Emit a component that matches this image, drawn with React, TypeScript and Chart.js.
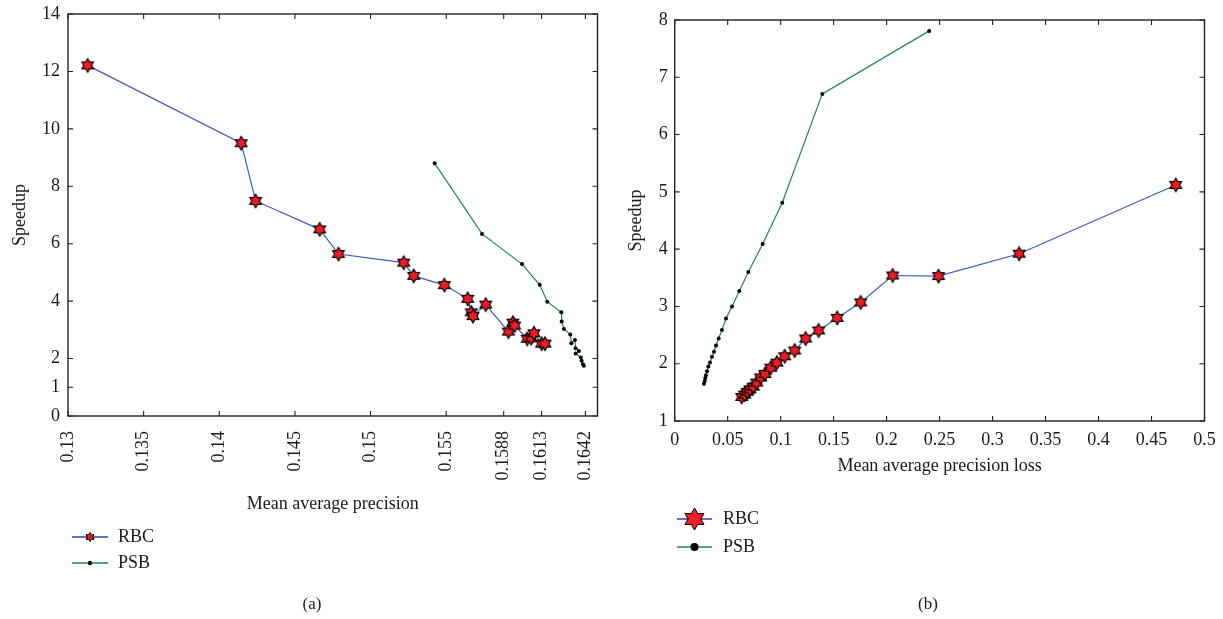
import { useEffect, useRef } from "react";
import { Chart, registerables } from "chart.js";

Chart.register(...registerables);

const FONT = '"Liberation Serif", "Times New Roman", serif';
const BLUE = "#3a5cbc";
const GREEN = "#1f8a45";
const STAR_FILL = "#ed1c24";
const TEXT = "#1a1a1a";

// ---- Panel (a): Mean average precision vs Speedup ----
const aRbcX = [0.1313, 0.14145, 0.1424, 0.14664, 0.14788, 0.15219, 0.15285, 0.15488, 0.15642, 0.15666, 0.15677, 0.15761, 0.15911, 0.15941, 0.15952, 0.16036, 0.16062, 0.1608, 0.16131, 0.16153];
const aRbcY = [12.21, 9.5, 7.49, 6.5, 5.64, 5.34, 4.88, 4.56, 4.08, 3.61, 3.48, 3.88, 2.94, 3.25, 3.15, 2.69, 2.71, 2.88, 2.52, 2.52];
const aPsbX = [0.15424, 0.15737, 0.16001, 0.16118, 0.16168, 0.16261, 0.16263, 0.16278, 0.1632, 0.16327, 0.16351, 0.16355, 0.16377, 0.16355, 0.1639, 0.16395, 0.16404, 0.1641];
const aPsbY = [8.8, 6.34, 5.29, 4.57, 3.98, 3.61, 3.29, 3.03, 2.84, 2.53, 2.65, 2.36, 2.26, 2.18, 2.04, 1.92, 1.8, 1.75];
const aXTicks = [0.13, 0.135, 0.14, 0.145, 0.15, 0.155, 0.1588, 0.1613, 0.1642];
const aXTickLabels = ["0.13", "0.135", "0.14", "0.145", "0.15", "0.155", "0.1588", "0.1613", "0.1642"];
const aYTicks = [0, 1, 2, 4, 6, 8, 10, 12, 14];
const aYTickLabels = ["0", "1", "2", "4", "6", "8", "10", "12", "14"];

// ---- Panel (b): Mean average precision loss vs Speedup ----
const bRbcX = [0.0632, 0.066, 0.0685, 0.071, 0.0742, 0.0774, 0.0811, 0.0852, 0.0906, 0.0965, 0.1038, 0.1132, 0.1236, 0.1358, 0.1534, 0.1755, 0.2057, 0.249, 0.3251, 0.4729];
const bRbcY = [1.42, 1.46, 1.51, 1.55, 1.6, 1.67, 1.76, 1.82, 1.93, 2.02, 2.13, 2.23, 2.44, 2.58, 2.8, 3.07, 3.54, 3.53, 3.92, 5.12];
const bPsbX = [0.0276, 0.0283, 0.0289, 0.0295, 0.0305, 0.0317, 0.0333, 0.0352, 0.0371, 0.039, 0.0415, 0.0446, 0.0484, 0.0541, 0.061, 0.0695, 0.083, 0.1015, 0.1393, 0.2402];
const bPsbY = [1.65, 1.7, 1.75, 1.8, 1.87, 1.95, 2.02, 2.12, 2.21, 2.32, 2.44, 2.59, 2.79, 3.0, 3.27, 3.6, 4.09, 4.81, 6.71, 7.81];
const bXTicks = [0, 0.05, 0.1, 0.15, 0.2, 0.25, 0.3, 0.35, 0.4, 0.45, 0.5];
const bXTickLabels = ["0", "0.05", "0.1", "0.15", "0.2", "0.25", "0.3", "0.35", "0.4", "0.45", "0.5"];
const bYTicks = [1, 2, 3, 4, 5, 6, 7, 8];
const bYTickLabels = ["1", "2", "3", "4", "5", "6", "7", "8"];

const seriesNames = ["RBC", "PSB"];

function hexagram(R: number, lw: number) {
  const size = Math.ceil(2 * R + 2 * lw + 2);
  const c = document.createElement("canvas");
  c.width = size;
  c.height = size;
  const ctx = c.getContext("2d")!;
  drawHexagram(ctx, size / 2, size / 2, R, lw);
  return c;
}

function drawHexagram(ctx: CanvasRenderingContext2D, cx: number, cy: number, R: number, lw: number) {
  const r = R / Math.sqrt(3);
  ctx.save();
  ctx.beginPath();
  for (let i = 0; i < 12; i++) {
    const ang = -Math.PI / 2 + (i * Math.PI) / 6;
    const rad = i % 2 === 0 ? R : r;
    const x = cx + rad * Math.cos(ang);
    const y = cy + rad * Math.sin(ang);
    if (i === 0) ctx.moveTo(x, y);
    else ctx.lineTo(x, y);
  }
  ctx.closePath();
  ctx.fillStyle = STAR_FILL;
  ctx.fill();
  ctx.lineWidth = lw;
  ctx.strokeStyle = "#000";
  ctx.lineJoin = "miter";
  ctx.stroke();
  ctx.restore();
}

function zip(xs: number[], ys: number[]) {
  return xs.map((x, i) => ({ x, y: ys[i] }));
}

type Spec = {
  id: string;
  rbc: { x: number; y: number }[];
  psb: { x: number; y: number }[];
  xMin: number; xMax: number; yMin: number; yMax: number;
  xTicks: number[]; xLabels: string[];
  yTicks: number[]; yLabels: string[];
  xRot: number;
  xTitle: string;
  pad: { left: number; right: number; top: number; bottom: number };
  yAxisW: number; xAxisH: number;
  yTitlePad: number; xTickPad: number; yTickPad: number;
  starR: number; dotR: number;
  legend: { x1: number; x2: number; y1: number; y2: number; tx: number; starR: number; dotR: number };
  caption: { text: string; x: number; y: number };
};

function buildConfig(s: Spec): any {
  const star = hexagram(s.starR, 1.1);
  const tickFont = { family: FONT, size: 18 };
  const plugin = {
    id: "deco" + s.id,
    beforeDatasetsDraw(chart: any) {
      const { ctx, chartArea: a, scales } = chart;
      ctx.save();
      ctx.strokeStyle = "#222";
      ctx.lineWidth = 1.4;
      ctx.strokeRect(a.left, a.top, a.right - a.left, a.bottom - a.top);
      ctx.lineWidth = 1.1;
      ctx.beginPath();
      const tl = 5;
      s.xTicks.forEach((v) => {
        const px = scales.x.getPixelForValue(v);
        ctx.moveTo(px, a.bottom); ctx.lineTo(px, a.bottom - tl);
        ctx.moveTo(px, a.top); ctx.lineTo(px, a.top + tl);
      });
      s.yTicks.forEach((v) => {
        const py = scales.y.getPixelForValue(v);
        ctx.moveTo(a.left, py); ctx.lineTo(a.left + tl, py);
        ctx.moveTo(a.right, py); ctx.lineTo(a.right - tl, py);
      });
      ctx.stroke();
      ctx.restore();
    },
    afterDraw(chart: any) {
      const { ctx } = chart;
      const L = s.legend;
      ctx.save();
      ctx.lineWidth = 1.8;
      ctx.strokeStyle = "rgba(58,92,188,0.85)";
      ctx.beginPath(); ctx.moveTo(L.x1, L.y1); ctx.lineTo(L.x2, L.y1); ctx.stroke();
      drawHexagram(ctx, (L.x1 + L.x2) / 2, L.y1, L.starR, 1);
      ctx.strokeStyle = "rgba(31,138,69,0.75)";
      ctx.lineWidth = 2.2;
      ctx.beginPath(); ctx.moveTo(L.x1, L.y2); ctx.lineTo(L.x2, L.y2); ctx.stroke();
      ctx.fillStyle = "#000";
      ctx.beginPath(); ctx.arc((L.x1 + L.x2) / 2, L.y2, L.dotR, 0, Math.PI * 2); ctx.fill();
      ctx.fillStyle = TEXT;
      ctx.font = `18px ${FONT}`;
      ctx.textAlign = "left";
      ctx.textBaseline = "middle";
      ctx.fillText(seriesNames[0], L.tx, L.y1);
      ctx.fillText(seriesNames[1], L.tx, L.y2);
      ctx.font = `17px ${FONT}`;
      ctx.textAlign = "center";
      ctx.fillText(s.caption.text, s.caption.x, s.caption.y);
      ctx.restore();
    },
  };
  const zeroPad = (sc: any) => {
    sc.paddingLeft = 0;
    sc.paddingRight = 0;
    sc.paddingTop = 0;
    sc.paddingBottom = 0;
  };
  return {
    type: "scatter",
    data: {
      datasets: [
        {
          label: seriesNames[0],
          data: s.rbc,
          showLine: true,
          borderColor: BLUE,
          borderWidth: 1.2,
          pointStyle: star,
          pointRadius: s.starR,
          tension: 0,
        },
        {
          label: seriesNames[1],
          data: s.psb,
          showLine: true,
          borderColor: GREEN,
          borderWidth: 1.2,
          pointStyle: "circle",
          pointRadius: s.dotR,
          pointBackgroundColor: "#000",
          pointBorderColor: "#000",
          pointBorderWidth: 0,
          tension: 0,
        },
      ],
    },
    options: {
      responsive: false,
      animation: false,
      events: [],
      layout: { padding: s.pad },
      plugins: { legend: { display: false }, tooltip: { enabled: false }, title: { display: false } },
      scales: {
        x: {
          type: "linear",
          min: s.xMin,
          max: s.xMax,
          afterBuildTicks: (sc: any) => { sc.ticks = s.xTicks.map((v) => ({ value: v })); },
          afterFit: (sc: any) => { sc.height = s.xAxisH; zeroPad(sc); },
          ticks: {
            autoSkip: false,
            minRotation: s.xRot,
            maxRotation: s.xRot,
            padding: s.xTickPad,
            font: tickFont,
            color: TEXT,
            callback: (_v: any, i: number) => s.xLabels[i],
          },
          grid: { display: false, drawTicks: false },
          border: { display: false },
          title: { display: true, text: s.xTitle, font: tickFont, color: TEXT, padding: { top: 0, bottom: 0 } },
        },
        y: {
          type: "linear",
          min: s.yMin,
          max: s.yMax,
          afterBuildTicks: (sc: any) => { sc.ticks = s.yTicks.map((v) => ({ value: v })); },
          afterFit: (sc: any) => { sc.width = s.yAxisW; zeroPad(sc); },
          ticks: {
            autoSkip: false,
            padding: s.yTickPad,
            font: tickFont,
            color: TEXT,
            callback: (_v: any, i: number) => s.yLabels[i],
          },
          grid: { display: false, drawTicks: false },
          border: { display: false },
          title: { display: true, text: "Speedup", font: tickFont, color: TEXT, padding: { top: s.yTitlePad, bottom: 0 } },
        },
      },
    },
    plugins: [plugin],
  };
}

const specA: Spec = {
  id: "a",
  rbc: zip(aRbcX, aRbcY),
  psb: zip(aPsbX, aPsbY),
  xMin: 0.13, xMax: 0.165, yMin: 0, yMax: 14,
  xTicks: aXTicks, xLabels: aXTickLabels,
  yTicks: aYTicks, yLabels: aYTickLabels,
  xRot: 90,
  xTitle: "Mean average precision",
  pad: { left: 0, right: 13.5, top: 14, bottom: 104 },
  yAxisW: 68, xAxisH: 99,
  yTitlePad: 9, xTickPad: 15, yTickPad: 8,
  starR: 6.8, dotR: 2,
  legend: { x1: 72, x2: 108, y1: 537, y2: 563, tx: 118, starR: 4.6, dotR: 2.2 },
  caption: { text: "(a)", x: 312, y: 605 },
};

const specB: Spec = {
  id: "b",
  rbc: zip(bRbcX, bRbcY),
  psb: zip(bPsbX, bPsbY),
  xMin: 0, xMax: 0.5, yMin: 1, yMax: 8,
  xTicks: bXTicks, xLabels: bXTickLabels,
  yTicks: bYTicks, yLabels: bYTickLabels,
  xRot: 0,
  xTitle: "Mean average precision loss",
  pad: { left: 0, right: 18.5, top: 20, bottom: 142 },
  yAxisW: 63.7, xAxisH: 56,
  yTitlePad: 14, xTickPad: 8, yTickPad: 7,
  starR: 6.8, dotR: 2,
  legend: { x1: 66, x2: 101, y1: 519, y2: 547, tx: 112, starR: 11, dotR: 4 },
  caption: { text: "(b)", x: 317, y: 605 },
};

export default function App() {
  const leftRef = useRef<HTMLCanvasElement>(null);
  const rightRef = useRef<HTMLCanvasElement>(null);
  useEffect(() => {
    const c1 = new Chart(leftRef.current!, buildConfig(specA));
    const c2 = new Chart(rightRef.current!, buildConfig(specB));
    return () => {
      c1.destroy();
      c2.destroy();
    };
  }, []);
  return (
    <div style={{ position: "absolute", left: 0, top: 0, width: 1223, height: 619, background: "#fff" }}>
      <canvas ref={leftRef} width={611} height={619} style={{ position: "absolute", left: 0, top: 0, width: 611, height: 619 }} />
      <canvas ref={rightRef} width={612} height={619} style={{ position: "absolute", left: 611, top: 0, width: 612, height: 619 }} />
    </div>
  );
}
